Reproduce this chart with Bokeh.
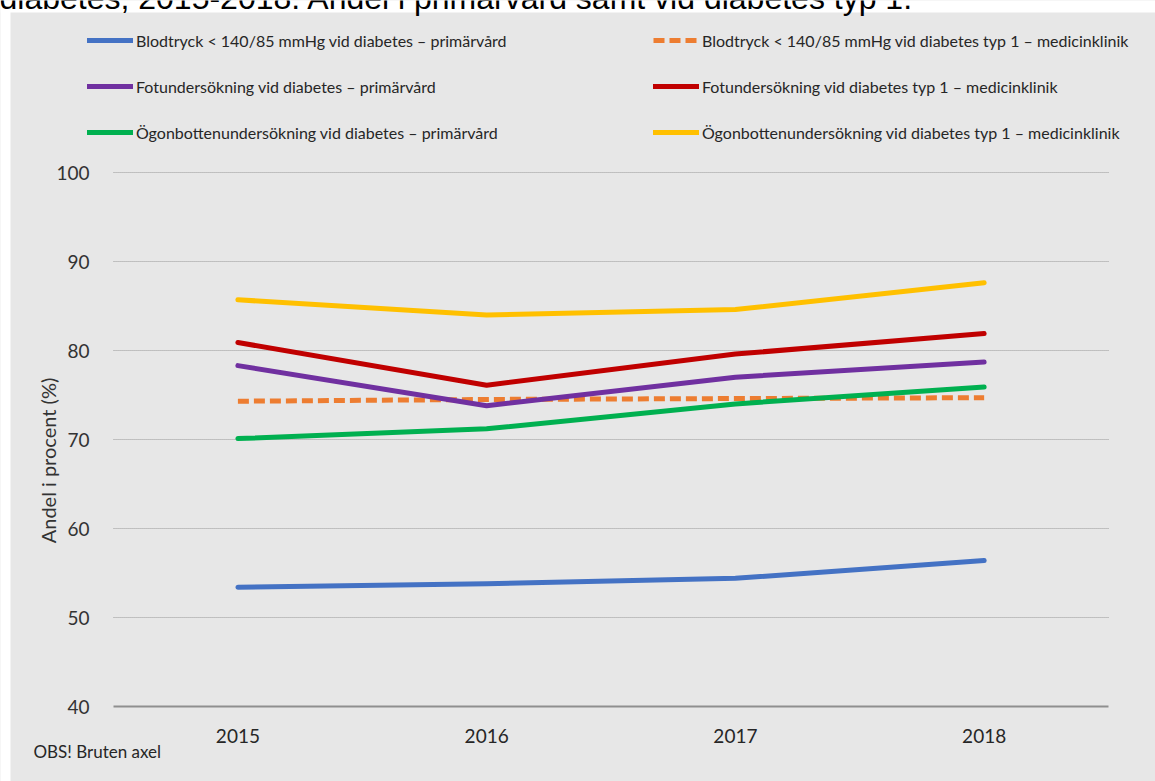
import math

from bokeh.plotting import figure
from bokeh.models import (Range1d, FixedTicker, Legend, LegendItem, Label,
                          BoxAnnotation, LinearAxis)
from bokeh.embed import file_html
from bokeh.resources import INLINE

# --- data -------------------------------------------------------------
years = [2015, 2016, 2017, 2018]

bp_primary = [53.4, 53.8, 54.4, 56.4]      # Blodtryck, primärvård
bp_type1 = [74.3, 74.5, 74.6, 74.7]        # Blodtryck, typ 1 medicinklinik
foot_primary = [78.3, 73.8, 77.0, 78.7]    # Fotundersökning, primärvård
foot_type1 = [80.9, 76.1, 79.6, 81.9]      # Fotundersökning, typ 1
eye_primary = [70.1, 71.2, 74.0, 75.9]     # Ögonbotten, primärvård
eye_type1 = [85.7, 84.0, 84.6, 87.6]       # Ögonbotten, typ 1

names = [
    "Blodtryck < 140/85 mmHg vid diabetes – primärvård",
    "Blodtryck < 140/85 mmHg vid diabetes typ 1 – medicinklinik",
    "Fotundersökning vid diabetes – primärvård",
    "Fotundersökning vid diabetes typ 1 – medicinklinik",
    "Ögonbottenundersökning vid diabetes – primärvård",
    "Ögonbottenundersökning vid diabetes typ 1 – medicinklinik",
]
y_ticks = [40, 50, 60, 70, 80, 90, 100]
grid_values = [50, 60, 70, 80, 90, 100]

title_text = "diabetes, 2015-2018. Andel i primärvård samt vid diabetes typ 1."
y_label_text = "Andel i procent (%)"
note_text = "OBS! Bruten axel"

# --- layout / styling ---------------------------------------------------
PANEL = "#e7e7e7"
FONT = "Lato"
TXT = "#333333"

W, H = 1155, 781
# the plotting frame spans the whole canvas; the data area sits inside it
X0, X_PX = 2015, 237.4          # canvas x of the first year
X_STEP = 248.75                 # pixels per year
Y_BASE_PX = 706                 # canvas y of the 40 % baseline
Y_STEP = 8.9                    # pixels per percentage point
AREA_X = (2014.5, 2018.5)       # horizontal extent of the chart area

x_start = X0 - X_PX / X_STEP
y_start = 40 - (H - Y_BASE_PX) / Y_STEP

p = figure(width=W, height=H, output_backend="svg", toolbar_location=None,
           x_range=Range1d(x_start, x_start + W / X_STEP),
           y_range=Range1d(y_start, y_start + H / Y_STEP),
           x_axis_location=None, y_axis_location=None,
           min_border=0, min_border_left=0, min_border_right=0,
           min_border_top=0, min_border_bottom=0)
p.border_fill_color = PANEL
p.background_fill_color = PANEL
p.outline_line_color = None
p.grid.visible = False

# axes pinned to the chart area
yaxis = LinearAxis(fixed_location=AREA_X[0], ticker=FixedTicker(ticks=y_ticks),
                   bounds=(40, 100))
yaxis.axis_line_color = None
yaxis.major_tick_line_color = None
yaxis.minor_tick_line_color = None
yaxis.major_label_text_font = FONT
yaxis.major_label_text_font_size = "19px"
yaxis.major_label_text_color = TXT
yaxis.major_label_standoff = 18
p.add_layout(yaxis, "left")

xaxis = LinearAxis(fixed_location=40, ticker=FixedTicker(ticks=years),
                   bounds=AREA_X)
xaxis.axis_line_color = "#8f8f8f"
xaxis.axis_line_width = 2
xaxis.major_tick_line_color = None
xaxis.minor_tick_line_color = None
xaxis.major_label_text_font = FONT
xaxis.major_label_text_font_size = "19px"
xaxis.major_label_text_color = "#262626"
xaxis.major_label_standoff = 16
p.add_layout(xaxis, "below")

# dotted horizontal gridlines across the chart area
p.segment(x0=[AREA_X[0]] * len(grid_values), x1=[AREA_X[1]] * len(grid_values),
          y0=grid_values, y1=grid_values, line_color="#989898",
          line_dash="1 1", line_width=1)

# series
series = [
    (bp_primary, "#4472c4", "solid"),
    (bp_type1, "#ed7d31", "11 5"),
    (foot_primary, "#7030a0", "solid"),
    (foot_type1, "#c00000", "solid"),
    (eye_primary, "#00b050", "solid"),
    (eye_type1, "#ffc000", "solid"),
]
renderers = []
for vals, color, dash in series:
    r = p.line(years, vals, line_color=color, line_width=5,
               line_dash=dash, line_join="round",
               line_cap="butt" if dash != "solid" else "round")
    renderers.append(r)


def make_legend(idx, x, y):
    lg = Legend(items=[LegendItem(label=names[i], renderers=[renderers[i]])
                       for i in idx],
                location=(x, y), orientation="vertical",
                glyph_width=46, glyph_height=20, label_height=20,
                label_standoff=3, spacing=26, padding=0, margin=0,
                border_line_alpha=0, background_fill_alpha=0,
                label_text_font=FONT, label_text_font_size="16px",
                label_text_color="#262626")
    p.add_layout(lg)


make_legend([0, 2, 4], 87, H - 142)
make_legend([1, 3, 5], 653, H - 142)

# white page margin around the grey chart panel
for box in (dict(left=0, right=W, top=H, bottom=H - 12),
            dict(left=0, right=10, top=H, bottom=0)):
    p.add_layout(BoxAnnotation(left_units="screen", right_units="screen",
                               top_units="screen", bottom_units="screen",
                               fill_color="white", fill_alpha=1,
                               line_alpha=0, level="overlay", **box))

# heading line continuing from above the chart
p.add_layout(Label(x=-1, y=H + 3, x_units="screen", y_units="screen",
                   text=title_text, text_font="Liberation Sans",
                   text_font_size="32px", text_color="black",
                   text_baseline="alphabetic", level="overlay"))

p.add_layout(Label(x=47, y=H - 460, x_units="screen", y_units="screen",
                   text=y_label_text, angle=math.pi / 2,
                   text_font=FONT, text_font_size="20px", text_color=TXT,
                   text_align="center", text_baseline="middle"))

p.add_layout(Label(x=33, y=H - 751, x_units="screen", y_units="screen",
                   text=note_text, text_font=FONT, text_font_size="17px",
                   text_color="#262626", text_align="left",
                   text_baseline="middle"))

open("out.html", "w").write(file_html(p, INLINE))
